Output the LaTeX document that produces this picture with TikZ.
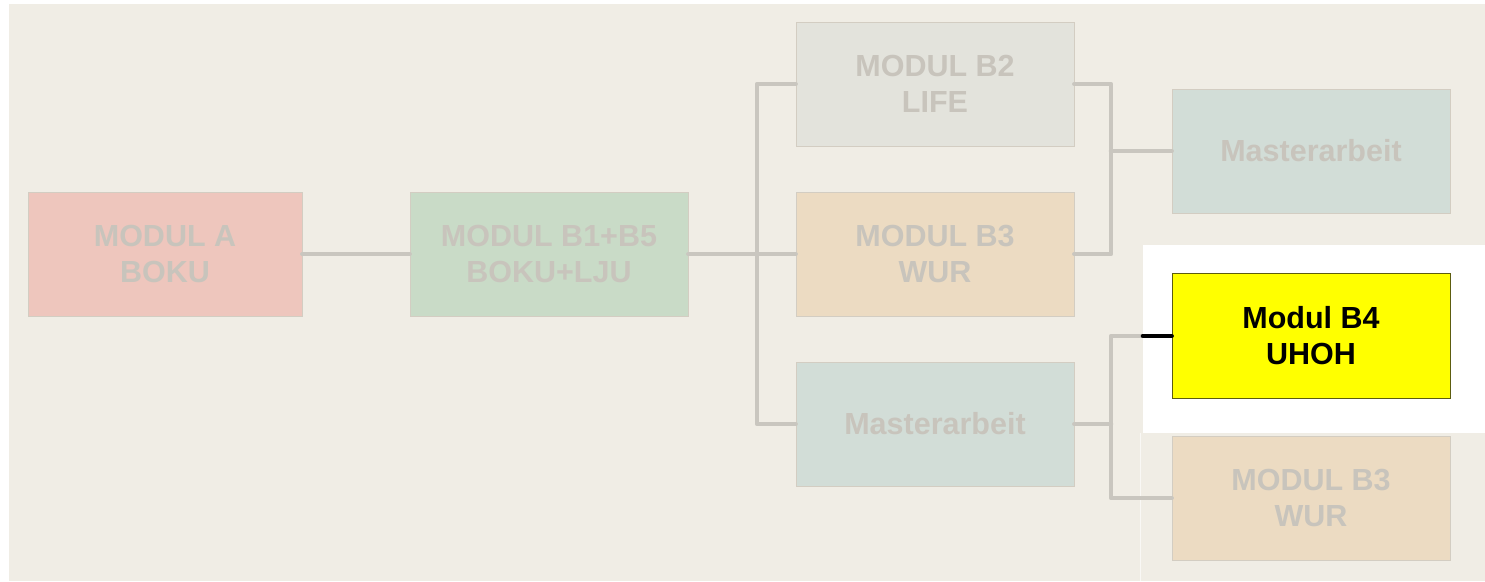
\documentclass[tikz,border=0pt]{standalone}
\usepackage{fontspec}
\setmainfont{Liberation Sans}
\begin{document}
\definecolor{pagebg}{HTML}{F0EDE5}
\definecolor{linkgrey}{HTML}{C9C6BF}
\definecolor{fadetext}{HTML}{C8C4BC}
\definecolor{fadeedge}{HTML}{D3CDC2}
\definecolor{fillA}{HTML}{EEC6BD}
\definecolor{fillGreen}{HTML}{C9DBC7}
\definecolor{fillGrey}{HTML}{E3E3DC}
\definecolor{fillPeach}{HTML}{ECDBC2}
\definecolor{fillTeal}{HTML}{D2DDD7}
\definecolor{fillYellow}{RGB}{255,255,0}
\definecolor{edgeYellow}{HTML}{5C5C10}
\begin{tikzpicture}[x=1pt,y=-1pt,
  modbox/.style={draw=fadeedge,line width=0.8pt,minimum width=278pt,minimum height=124pt,
    inner sep=0pt,align=center,text=fadetext,font=\bfseries\fontsize{30.5}{36}\selectfont},
  link/.style={draw=linkgrey,line width=4.6pt,line cap=round,line join=round},
  activelink/.style={draw=black,line width=4.6pt,line cap=round}]
\useasboundingbox (0,0) rectangle (1485,581);
% page background and highlight panel
\fill[pagebg] (9,4) rectangle (1485,581);
\fill[white] (1143,245) rectangle (1485,433);
\draw[white!60!pagebg,line width=1pt] (1140,433) -- (1140,581);
% module boxes
\node[modbox,fill=fillA,minimum width=274pt] (A) at (165,254) {MODUL A\\BOKU};
\node[modbox,fill=fillGreen] (B15) at (549,254) {MODUL B1+B5\\BOKU+LJU};
\node[modbox,fill=fillGrey] (B2) at (935,84) {MODUL B2\\LIFE};
\node[modbox,fill=fillPeach] (B3) at (935,254) {MODUL B3\\WUR};
\node[modbox,fill=fillTeal] (MA1) at (935,424) {Masterarbeit};
\node[modbox,fill=fillTeal] (MA2) at (1311,151) {Masterarbeit};
\node[modbox,fill=fillYellow,draw=edgeYellow,text=black,minimum height=125pt] (B4) at (1311,336) {Modul B4\\UHOH};
\node[modbox,fill=fillPeach] (B3b) at (1311,498) {MODUL B3\\WUR};
% connectors
\coordinate (s1) at (757,254);
\coordinate (s2) at (1111,151);
\coordinate (s3) at (1111,424);
\coordinate (gap) at (1143,336);
\draw[link] (A.east) -- (B15.west);
\draw[link] (B15.east) -- (B3.west);
\draw[link] (B2.west) -| (s1) |- (MA1.west);
\draw[link] (B2.east) -| (s2) |- (B3.east);
\draw[link] (s2) -- (MA2.west);
\draw[link] (MA1.east) -- (s3);
\draw[link] (gap) -| (s3) |- (B3b.west);
\draw[activelink] (gap) -- (B4.west);
\end{tikzpicture}
\end{document}
